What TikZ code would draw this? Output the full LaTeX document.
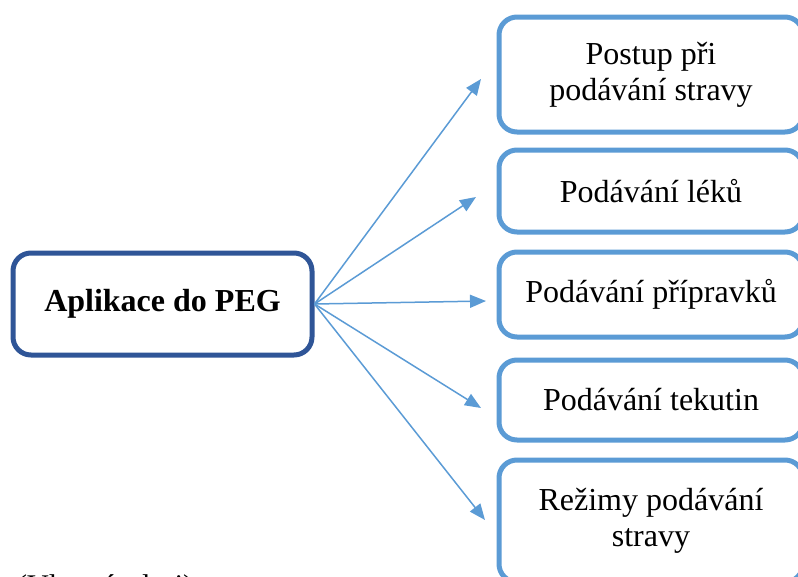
\documentclass[tikz,border=0pt]{standalone}
\usepackage{fontspec}
\setmainfont{Liberation Serif}
\usetikzlibrary{arrows.meta}
\definecolor{darkblue}{HTML}{2F5597}
\definecolor{lightblue}{HTML}{5B9BD5}
\tikzset{
  mainbox/.style={draw=darkblue, line width=5pt, rounded corners=18pt, fill=white,
    minimum width=299pt, minimum height=102pt, inner sep=0pt, align=center,
    font=\fontsize{32}{36}\selectfont\bfseries},
  subbox/.style={draw=lightblue, line width=5pt, rounded corners=18pt, fill=white,
    minimum width=304pt, inner sep=0pt, align=center,
    font=\fontsize{32}{36}\selectfont},
  conn/.style={draw=lightblue, line width=1.5pt, -{Triangle[length=16pt,width=13pt]}}
}
\begin{document}
\begin{tikzpicture}[x=1pt,y=-1pt]
\useasboundingbox (0,0) rectangle (798,576);
\clip (0,0) rectangle (798,576);
\node[mainbox] (L) at (162.5,304) {Aplikace do PEG};
\node[subbox, minimum height=115pt] (b1) at (651,74.5) {Postup při\\podávání stravy};
\node[subbox, minimum height=82pt] (b2) at (651,191) {Podávání léků};
\node[subbox, minimum height=85pt] (b3) at (651,294.5) {Podávání přípravků};
\node[subbox, minimum height=80pt] (b4) at (651,400) {Podávání tekutin};
\node[subbox, minimum height=122pt] (b5) at (651,521) {Režimy podávání\\stravy};
\coordinate (t1) at (481,79);
\coordinate (t2) at (476,197);
\coordinate (t3) at (486,301);
\coordinate (t4) at (481,408);
\coordinate (t5) at (485,520);
\foreach \t in {t1,t2,t3,t4,t5} \draw[conn] (L.east) -- (\t);
\node[anchor=base west, inner sep=0pt, font=\fontsize{30}{34}\selectfont] (cap) at (17,595.5) {(Vlastní zdroj)};
\end{tikzpicture}
\end{document}
